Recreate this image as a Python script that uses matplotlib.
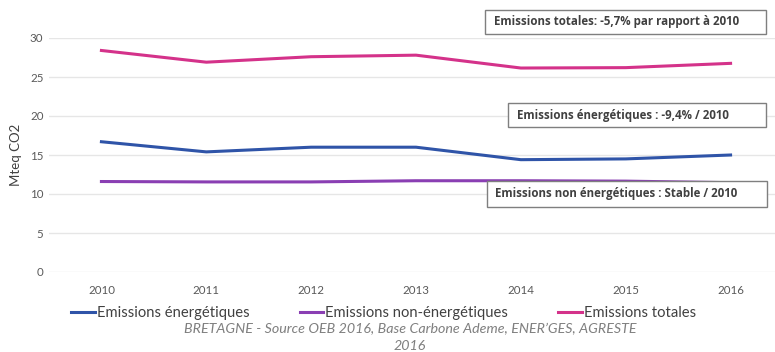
import matplotlib.pyplot as plt
from matplotlib.patches import Rectangle

plt.rcParams['font.family'] = ['Lato', 'DejaVu Sans']

years = ['2010', '2011', '2012', '2013', '2014', '2015', '2016']
energetiques = [16.7, 15.4, 16.0, 16.0, 14.4, 14.5, 15.0]
non_energetiques = [11.6, 11.55, 11.55, 11.7, 11.7, 11.65, 11.45]
totales = [28.4, 26.9, 27.6, 27.8, 26.15, 26.2, 26.75]

notes = ['Emissions totales: -5,7% par rapport à 2010',
         'Emissions énergétiques : -9,4% / 2010',
         'Emissions non énergétiques : Stable / 2010']

W, H = 775, 352
fig = plt.figure(figsize=(W / 100, H / 100), dpi=100)
ax = fig.add_axes([49 / W, 1 - 272 / H, (783 - 49) / W, (272 - 38) / H])

x = range(len(years))
ax.plot(x, energetiques, color='#2f54a8', lw=2.2, label='Emissions énergétiques')
ax.plot(x, non_energetiques, color='#8a3fb3', lw=2.2, label='Emissions non-énergétiques')
ax.plot(x, totales, color='#d4328a', lw=2.2, label='Emissions totales')

ax.set_xlim(-0.5, 6.5)
ax.set_ylim(0, 30)
ax.set_yticks(range(0, 31, 5))
ax.set_xticks(list(x))
ax.set_xticklabels(years)
ax.grid(axis='y', color='#e6e6e6', lw=1)
ax.set_axisbelow(True)
for s in ax.spines.values():
    s.set_visible(False)
ax.tick_params(length=0, labelsize=8.3, colors='#595959', pad=9)
ax.tick_params(axis='y', pad=4)
ax.set_ylabel('Mteq CO2', fontsize=9.5, color='#404040', labelpad=6)

# annotation boxes: (left, top, right, bottom) in pixels, text start x
boxes = [(485, 10, 766, 34, 494), (508, 103, 766, 127, 517), (487, 181, 767, 207, 495)]
for note, (l, t, r, b, tx) in zip(notes, boxes):
    fig.patches.append(Rectangle((l / W, 1 - b / H), (r - l) / W, (b - t) / H,
                                 transform=fig.transFigure, fc='white',
                                 ec='#7f7f7f', lw=1, zorder=5))
    fig.text(tx / W, 1 - (t + b) / 2 / H, note, fontsize=8.3, fontweight='bold',
             color='#404040', va='center', family=['Open Sans', 'DejaVu Sans'],
             zorder=6)

fig.legend(loc='center', bbox_to_anchor=(0.495, 1 - 313 / H), ncol=3, frameon=False,
           fontsize=10.6, handlelength=1.6, handletextpad=0.15, columnspacing=3.4,
           labelcolor='#404040')

fig.text(410 / W, 1 - 329 / H,
         'BRETAGNE - Source OEB 2016, Base Carbone Ademe, ENER\u2019GES, AGRESTE',
         fontsize=10.3, style='italic', color='#7f7f7f', ha='center', va='center')
fig.text(410 / W, 1 - 346 / H, '2016', fontsize=10.3, style='italic',
         color='#7f7f7f', ha='center', va='center')

fig.savefig('out.png', dpi=100)
